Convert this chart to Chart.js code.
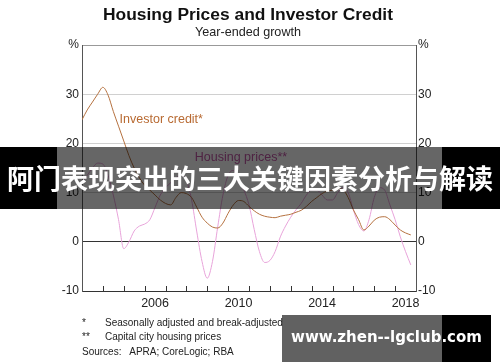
<!DOCTYPE html>
<html>
<head>
<meta charset="utf-8">
<script src="https://cdn.jsdelivr.net/npm/chart.js@4"></script>
<style>
  body { margin: 0; background: #fff; }
  #wrap { position: relative; width: 500px; height: 362px; overflow: hidden; font-family: "Liberation Sans", Arial, sans-serif; color: #222; }
  #chart { position: absolute; left: 0; top: 0; }
  .t { position: absolute; white-space: nowrap; line-height: 1; }
  #title { left: 0; width: 496px; top: 6px; text-align: center; font-size: 17.4px; font-weight: bold; color: #111; }
  #sub { left: 0; width: 496px; top: 26px; text-align: center; font-size: 12.6px; }
  .note { font-size: 10px; }
  #banner { position: absolute; left: 0; top: 147px; width: 500px; height: 62px; }
  #banner .side { position: absolute; top: 0; height: 62px; background: #000; }
  #banner .mid { position: absolute; left: 57px; top: 0; width: 385px; height: 62px; background: rgba(0,0,0,0.6); }
  #banner .txt { position: absolute; left: 0; width: 500px; top: 14px; text-align: center; color: #fff; font-family: "Noto Sans CJK SC", sans-serif; font-weight: bold; font-size: 27px; line-height: 34px; white-space: nowrap; }
  #mark { position: absolute; left: 282px; top: 315px; width: 209px; height: 47px; }
  #mark .grey { position: absolute; left: 0; top: 0; width: 160px; height: 47px; background: rgba(0,0,0,0.62); }
  #mark .blk { position: absolute; left: 160px; top: 0; width: 49px; height: 47px; background: #000; }
  #mark .txt { position: absolute; left: 0; width: 209px; top: 12px; text-align: center; color: #fff; font-family: "DejaVu Sans", sans-serif; font-weight: bold; font-size: 15px; line-height: 20px; white-space: nowrap; }
</style>
</head>
<body>
<div id="wrap">
  <canvas id="chart" width="500" height="362"></canvas>
  <div class="t" id="title">Housing Prices and Investor Credit</div>
  <div class="t" id="sub">Year-ended growth</div>
  <div class="t note" style="left:82px; top:318px;">*</div>
  <div class="t note" style="left:105px; top:318px;">Seasonally adjusted and break-adjusted</div>
  <div class="t note" style="left:82px; top:332px;">**</div>
  <div class="t note" style="left:105px; top:332px;">Capital city housing prices</div>
  <div class="t note" style="left:82px; top:347px;">Sources:&nbsp;&nbsp; APRA; CoreLogic; RBA</div>
  <div id="banner">
    <div class="side" style="left:0; width:57px;"></div>
    <div class="mid"></div>
    <div class="side" style="left:442px; width:58px;"></div>
    <div class="txt">阿门表现突出的三大关键因素分析与解读</div>
  </div>
  <div id="mark">
    <div class="grey"></div>
    <div class="blk"></div>
    <div class="txt">www.zhen--lgclub.com</div>
  </div>
</div>
<script>
// quarterly dates, year-ended growth (%)
var dates = [
  2003.00, 2003.25, 2003.50, 2003.75, 2004.00, 2004.25, 2004.50, 2004.75,
  2005.00, 2005.25, 2005.50, 2005.75, 2006.00, 2006.25, 2006.50, 2006.75,
  2007.00, 2007.25, 2007.50, 2007.75, 2008.00, 2008.25, 2008.50, 2008.75,
  2009.00, 2009.25, 2009.50, 2009.75, 2010.00, 2010.25, 2010.50, 2010.75,
  2011.00, 2011.25, 2011.50, 2011.75, 2012.00, 2012.25, 2012.50, 2012.75,
  2013.00, 2013.25, 2013.50, 2013.75, 2014.00, 2014.25, 2014.50, 2014.75,
  2015.00, 2015.25, 2015.50, 2015.75, 2016.00, 2016.25, 2016.50, 2016.75,
  2017.00, 2017.25, 2017.50, 2017.75, 2018.00, 2018.25, 2018.50, 2018.75
];
var investorCredit = [
  24.8, 26.8, 28.4, 30.0, 31.4, 29.8, 26.5, 23.5,
  20.5, 17.5, 15.0, 13.0, 11.5, 10.5, 9.5, 8.5,
  7.8, 7.5, 9.0, 10.0, 9.8, 9.0, 7.0, 5.0,
  3.8, 3.0, 2.8, 3.8, 5.8, 7.5, 8.4, 8.2,
  7.2, 6.3, 5.6, 5.2, 5.0, 4.9, 5.2, 5.4,
  5.6, 6.0, 6.4, 7.2, 8.2, 9.0, 9.8, 10.3,
  10.5, 10.8, 10.6, 9.0, 6.5, 4.5, 2.4, 3.2,
  4.4, 5.0, 5.1, 4.5, 3.4, 2.4, 1.8, 1.4
];
var housingPrices = [
  12.0, 13.5, 15.0, 16.0, 15.8, 13.5, 9.5, 4.5,
  -1.4, 0.0, 2.2, 3.2, 3.6, 4.5, 7.0, 9.5,
  11.0, 12.0, 13.0, 13.5, 12.5, 8.5, 2.0, -4.0,
  -7.4, -4.0, 3.0, 9.5, 13.5, 14.5, 12.0, 10.5,
  7.5, 2.5, -2.0, -4.2, -3.8, -2.0, 1.0, 3.2,
  5.0, 6.5, 7.8, 9.5, 10.5, 10.5, 9.5, 8.5,
  8.5, 10.0, 11.0, 10.0, 6.5, 3.5, 2.2, 4.5,
  9.0, 11.0, 10.5, 7.5, 4.5, 1.0, -2.0, -4.7
];
var yearLabels = [2006, 2010, 2014, 2018];
var yearTicks = [2004, 2005, 2006, 2007, 2008, 2009, 2010, 2011, 2012, 2013, 2014, 2015, 2016, 2017, 2018];
var seriesLabels = [
  { text: 'Investor credit*', x: 2004.8, y: 24.8, color: '#b86a32' },
  { text: 'Housing prices**', x: 2008.4, y: 17.1, color: '#c257a6' }
];

function toPoints(vals) {
  return vals.map(function (v, i) { return { x: dates[i], y: v }; });
}

var tickFont = { family: 'Liberation Sans', size: 12 };

// small year ticks on the bottom axis + in-chart series labels
var extras = {
  id: 'extras',
  afterDatasetsDraw: function (chart) {
    var c = chart.ctx, xs = chart.scales.x, ys = chart.scales.y;
    var bottom = chart.chartArea.bottom;
    c.save();
    c.strokeStyle = '#333';
    c.lineWidth = 1;
    yearTicks.forEach(function (yr) {
      var px = Math.round(xs.getPixelForValue(yr)) + 0.5;
      c.beginPath();
      c.moveTo(px, bottom);
      c.lineTo(px, bottom - 5);
      c.stroke();
    });
    c.font = '12.5px "Liberation Sans"';
    c.textBaseline = 'middle';
    c.textAlign = 'left';
    seriesLabels.forEach(function (l) {
      c.fillStyle = l.color;
      c.fillText(l.text, xs.getPixelForValue(l.x), ys.getPixelForValue(l.y));
    });
    c.restore();
  }
};

new Chart(document.getElementById('chart'), {
  type: 'line',
  data: {
    datasets: [
      {
        label: 'Investor credit*',
        data: toPoints(investorCredit),
        borderColor: '#b5713f',
        borderWidth: 1,
        pointRadius: 0,
        tension: 0.4,
        cubicInterpolationMode: 'monotone'
      },
      {
        label: 'Housing prices**',
        data: toPoints(housingPrices),
        borderColor: '#e8a3da',
        borderWidth: 1,
        pointRadius: 0,
        tension: 0.4,
        cubicInterpolationMode: 'monotone'
      }
    ]
  },
  options: {
    responsive: false,
    animation: false,
    events: [],
    layout: { padding: { top: 45, left: 0, right: 0, bottom: 0 } },
    plugins: { legend: { display: false }, tooltip: { enabled: false } },
    scales: {
      x: {
        type: 'linear',
        min: 2003,
        max: 2019,
        afterBuildTicks: function (s) {
          s.ticks = yearLabels.map(function (y) { return { value: y + 0.5 }; });
        },
        afterFit: function (s) { s.height = 71; },
        ticks: {
          autoSkip: false,
          maxRotation: 0,
          padding: 5,
          color: '#222',
          font: { family: 'Liberation Sans', size: 12.5 },
          callback: function (v) { return String(Math.floor(v)); }
        },
        grid: { display: false, drawTicks: false },
        border: { display: true, color: '#333' }
      },
      y: {
        position: 'left',
        min: -10,
        max: 40,
        afterFit: function (s) { s.width = 82; },
        ticks: {
          stepSize: 10,
          padding: 3,
          color: '#222',
          font: tickFont,
          callback: function (v) { return v === 40 ? '%' : v; }
        },
        grid: {
          drawTicks: false,
          color: function (ctx) {
            var v = ctx.tick.value;
            if (v === 0) return '#333';
            if (v === 40) return '#999';
            return '#d0d0d0';
          }
        },
        border: { display: true, color: '#555' }
      },
      y2: {
        position: 'right',
        min: -10,
        max: 40,
        afterFit: function (s) { s.width = 84; },
        ticks: {
          stepSize: 10,
          padding: 2,
          color: '#222',
          font: tickFont,
          callback: function (v) { return v === 40 ? '%' : v; }
        },
        grid: { display: false, drawTicks: false },
        border: { display: true, color: '#555' }
      }
    }
  },
  plugins: [extras]
});
</script>
</body>
</html>
